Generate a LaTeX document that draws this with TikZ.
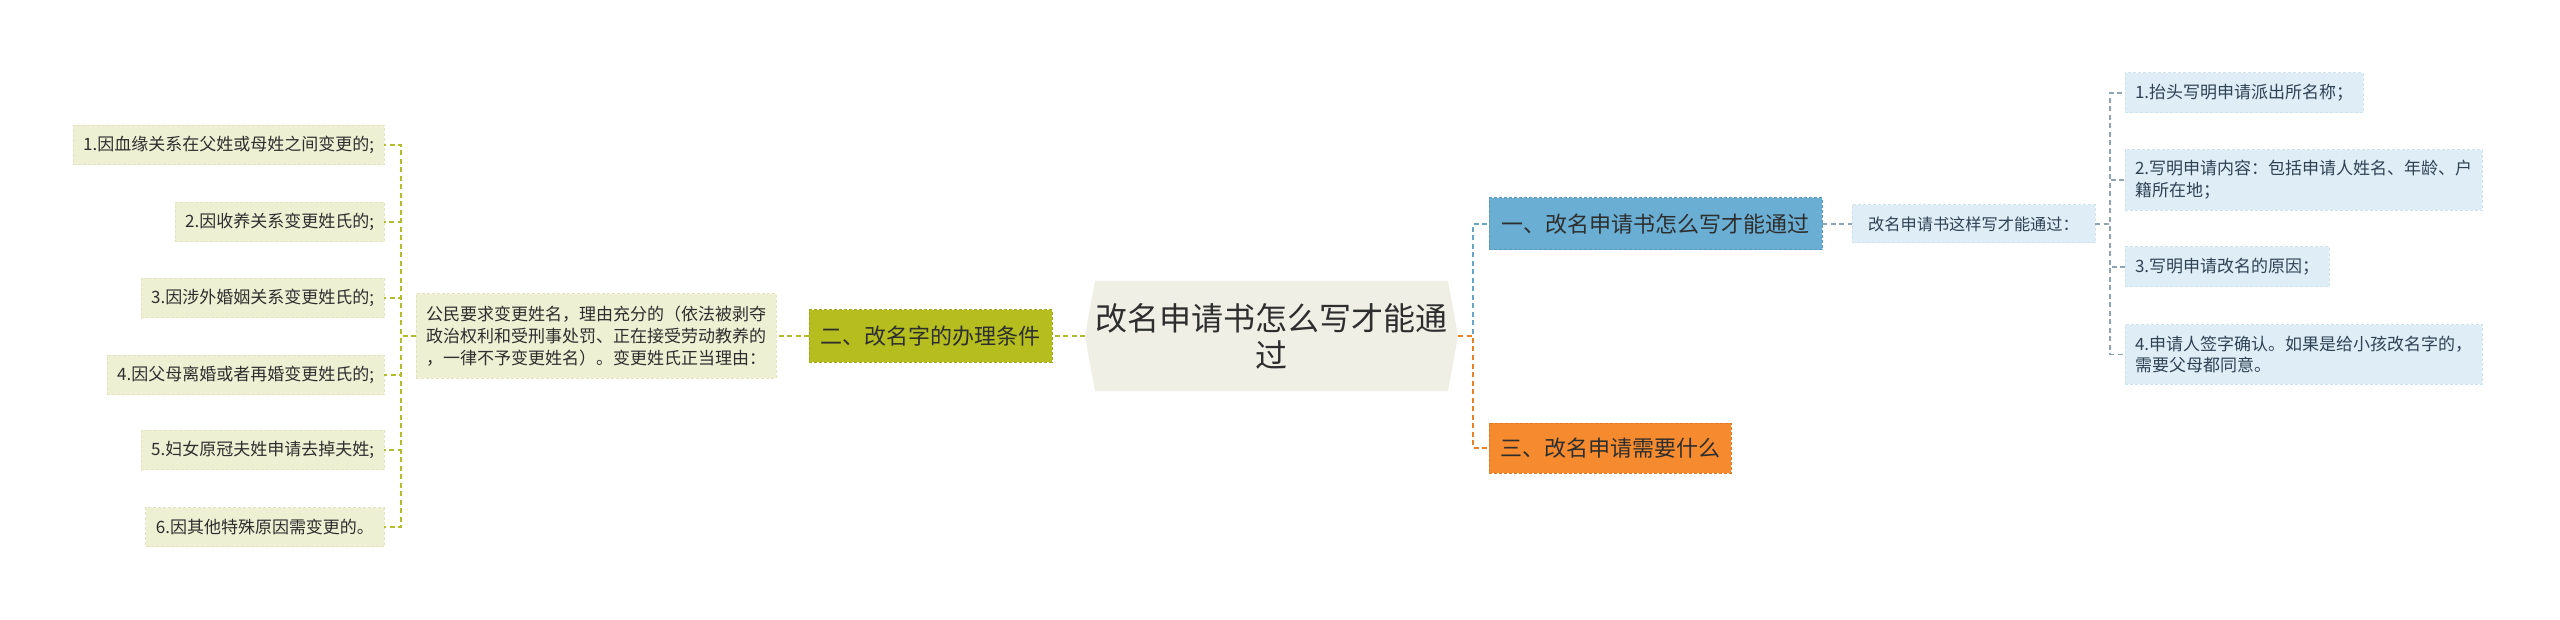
\documentclass[tikz,border=0pt]{standalone}
\usepackage{fontspec}
\setmainfont{Noto Sans CJK SC}
\usetikzlibrary{backgrounds}
\definecolor{rootfill}{HTML}{EFEFE6}
\definecolor{textdark}{HTML}{2E2E2E}
\definecolor{olivefill}{HTML}{B5BE1E}
\definecolor{olivedraw}{HTML}{9EA71A}
\definecolor{oliveline}{HTML}{B3BC2A}
\definecolor{paleolive}{HTML}{EEF0D4}
\definecolor{paleolivedraw}{HTML}{E2E5BE}
\definecolor{bluefill}{HTML}{6AAED3}
\definecolor{bluedraw}{HTML}{5898BD}
\definecolor{blueline}{HTML}{6AA5C6}
\definecolor{grayline}{HTML}{8FA6B2}
\definecolor{paleblue}{HTML}{DFEEF6}
\definecolor{palebluedraw}{HTML}{CFE3EE}
\definecolor{slatetext}{HTML}{2F4254}
\definecolor{orangefill}{HTML}{F58B2E}
\definecolor{orangedraw}{HTML}{DE7A22}
\definecolor{orangeline}{HTML}{E8822A}
\begin{document}
\begin{tikzpicture}[x=0.5pt, y=-0.5pt,
  every node/.style={inner sep=0pt, outer sep=0pt},
  rootnode/.style={minimum width=186.5pt, minimum height=55pt, align=center, text=textdark, font=\fontsize{16pt}{18.5pt}\selectfont},
  topicbox/.style={minimum height=26pt, draw, line width=0.5pt, dash pattern=on 1.5pt off 1pt, text=textdark, font=\fontsize{11pt}{13pt}\selectfont},
  oliveleaf/.style={fill=paleolive, draw=paleolivedraw, line width=0.5pt, dash pattern=on 1.5pt off 1pt, minimum height=19.5pt, inner xsep=5pt, inner ysep=5.5pt, align=left, text=textdark, font=\fontsize{8.5pt}{10.85pt}\selectfont},
  blueleaf/.style={fill=paleblue, draw=palebluedraw, line width=0.5pt, dash pattern=on 1.5pt off 1pt, minimum height=20pt, inner xsep=5pt, inner ysep=5.5pt, align=left, text=slatetext, font=\fontsize{8.5pt}{10.85pt}\selectfont},
  link/.style={line width=0.75pt, dash pattern=on 2.5pt off 1.75pt}]
\useasboundingbox (0,0) rectangle (2560,620);

% root
\node[rootnode] (c) at (1271.5,336) {改名申请书怎么写才能通\\过};

% left branch
\node[topicbox, fill=olivefill, draw=olivedraw, minimum width=121.5pt] (n2) at (930.5,336) {二、改名字的办理条件};
\node[oliveleaf, minimum height=42pt] (body) at (596,336) {公民要求变更姓名，理由充分的（依法被剥夺\\政治权利和受刑事处罚、正在接受劳动教养的\\，一律不予变更姓名）。变更姓氏正当理由：};
\node[oliveleaf, anchor=east] (l1) at (384,145) {1.因血缘关系在父姓或母姓之间变更的;};
\node[oliveleaf, anchor=east] (l2) at (384,222) {2.因收养关系变更姓氏的;};
\node[oliveleaf, anchor=east] (l3) at (384,298) {3.因涉外婚姻关系变更姓氏的;};
\node[oliveleaf, anchor=east] (l4) at (384,375) {4.因父母离婚或者再婚变更姓氏的;};
\node[oliveleaf, anchor=east] (l5) at (384,450) {5.妇女原冠夫姓申请去掉夫姓;};
\node[oliveleaf, anchor=east] (l6) at (384,527) {6.因其他特殊原因需变更的。};

% right branches
\node[topicbox, fill=bluefill, draw=bluedraw, minimum width=166.5pt] (n1) at (1655.5,224) {一、改名申请书怎么写才能通过};
\node[blueleaf, minimum width=121.5pt, minimum height=19pt, font=\fontsize{8.1pt}{10pt}\selectfont] (intro) at (1973.5,224) {改名申请书这样写才能通过：};
\node[blueleaf, anchor=west] (r1) at (2125,93) {1.抬头写明申请派出所名称；};
\node[blueleaf, anchor=west] (r2) at (2125,180) {2.写明申请内容：包括申请人姓名、年龄、户\\籍所在地；};
\node[blueleaf, anchor=west] (r3) at (2125,267) {3.写明申请改名的原因；};
\node[blueleaf, anchor=west] (r4) at (2125,354.5) {4.申请人签字确认。如果是给小孩改名字的，\\需要父母都同意。};
\node[topicbox, fill=orangefill, draw=orangedraw, minimum width=121pt, minimum height=25pt] (n3) at (1610,448) {三、改名申请需要什么};

\begin{scope}[on background layer]
\fill[white] (0,0) rectangle (2560,620);
\fill[rootfill] ([xshift=5pt]c.north west) -- ([xshift=-5pt]c.north east) -- (c.east) -- ([xshift=-5pt]c.south east) -- ([xshift=5pt]c.south west) -- (c.west) -- cycle;
\end{scope}

% connectors
\draw[link, oliveline] (c.west) -- (n2.east);
\draw[link, oliveline] (n2.west) -- (body.east);
\foreach \leaf in {l1,l2,l3,l4,l5,l6}
  \draw[link, oliveline] (body.west) -- ++(-15,0) |- (\leaf.east);
\draw[link, blueline] (c.east) -- ++(15,0) |- (n1.west);
\draw[link, orangeline] (c.east) -- ++(15,0) |- (n3.west);
\draw[link, grayline] (n1.east) -- (intro.west);
\foreach \leaf in {r1,r2,r3,r4}
  \draw[link, grayline] (intro.east) -- ++(15,0) |- (\leaf.west);
\end{tikzpicture}
\end{document}
